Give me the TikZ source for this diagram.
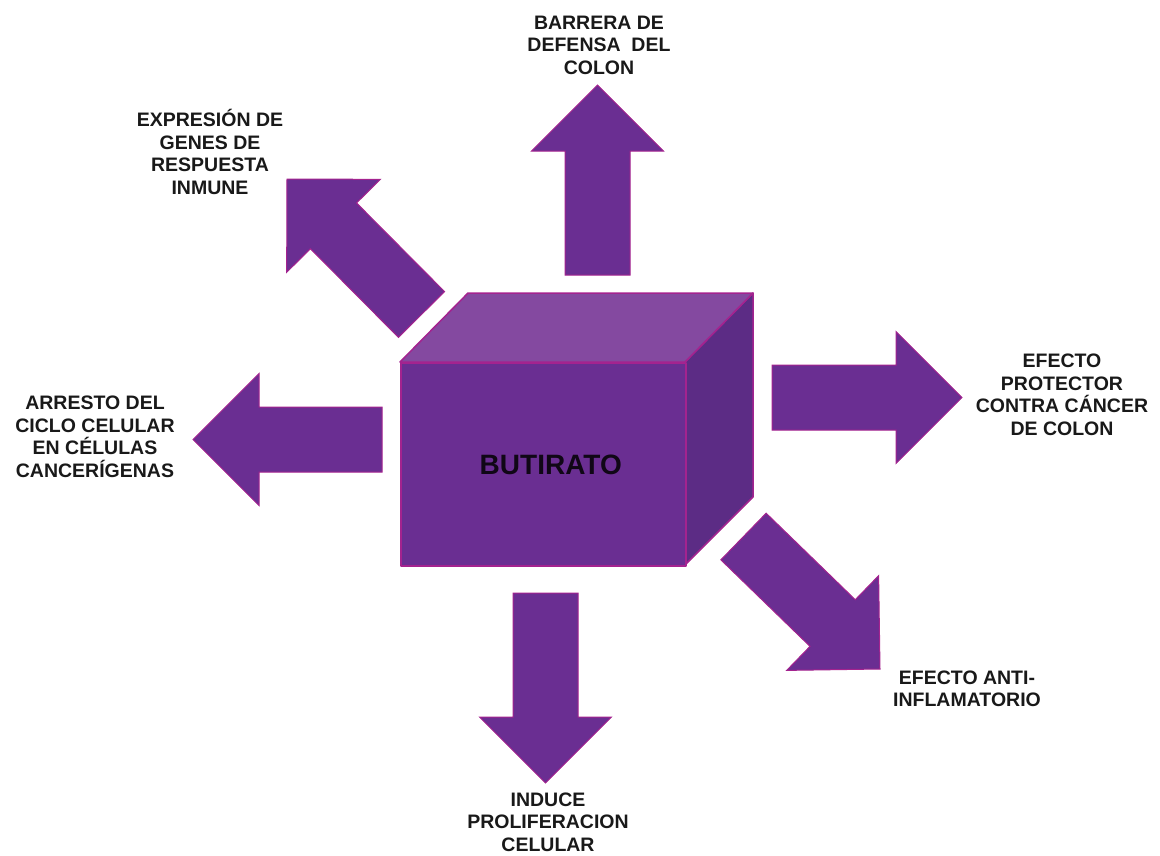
\documentclass[tikz,border=0pt]{standalone}
\usepackage{fontspec}
\setmainfont{Liberation Sans}
\usetikzlibrary{calc}

\definecolor{boxfront}{HTML}{6A2E92}
\definecolor{boxtop}{HTML}{8449A0}
\definecolor{boxside}{HTML}{5C2C85}
\definecolor{rim}{HTML}{A4238F}

\tikzset{
  effect/.style={font=\bfseries\fontsize{19.5}{22.5}\selectfont, align=center, text=black!90, inner sep=0pt},
  arrowbody/.style={fill=boxfront, draw=rim, line width=1pt, line join=miter},
  face/.style={draw=rim, line width=1.5pt, line join=round},
}

% block arrow from #1 to #2
\newcommand{\fatarrow}[2]{%
  \coordinate (hb) at ($(#2)!66pt!(#1)$);
  \filldraw[arrowbody] ($(#1)!32.5pt!90:(#2)$) -- ($(hb)!32.5pt!90:(#2)$)
    -- ($(hb)!66pt!90:(#2)$) -- (#2) -- ($(hb)!66pt!-90:(#2)$)
    -- ($(hb)!32.5pt!-90:(#2)$) -- ($(#1)!32.5pt!-90:(#2)$) -- cycle;
}

\begin{document}
\begin{tikzpicture}[x=1pt, y=-1pt]
  \useasboundingbox (0,0) rectangle (1160,855);

  % the box
  \filldraw[face, fill=boxside] (685,362) -- (753,293) -- (753,497) -- (685,565) -- cycle;
  \filldraw[face, fill=boxtop] (400,362) -- (468,293) -- (753,293) -- (685,362) -- cycle;
  \node[face, fill=boxfront, minimum width=285pt, minimum height=203pt, anchor=north west,
        font=\bfseries\fontsize{28}{30}\selectfont, text=black!85!boxfront,
        text depth=0pt] (butirato) at (400,362) {\hspace{15pt}BUTIRATO};

  % arrows
  \coordinate (up-from) at (597.5,275);    \coordinate (up-to) at (597.5,85);
  \coordinate (ul-from) at (421.5,314.5);  \coordinate (ul-to) at (287,179);
  \coordinate (left-from) at (382,439.5);  \coordinate (left-to) at (193,439.5);
  \coordinate (right-from) at (772,397.5); \coordinate (right-to) at (962,397.5);
  \coordinate (dr-from) at (743.5,536.5);  \coordinate (dr-to) at (880,669);
  \coordinate (down-from) at (545.5,593);  \coordinate (down-to) at (545.5,783);
  \fatarrow{up-from}{up-to}
  \fatarrow{ul-from}{ul-to}
  \fatarrow{left-from}{left-to}
  \fatarrow{right-from}{right-to}
  \fatarrow{dr-from}{dr-to}
  \fatarrow{down-from}{down-to}

  % effects
  \node[effect] (barrera) at (599,45) {BARRERA DE\\DEFENSA\ \ DEL\\COLON};
  \node[effect] (inmune) at (210,152) {EXPRESIÓN DE\\GENES DE\\RESPUESTA\\INMUNE};
  \node[effect] (arresto) at (95,437) {ARRESTO DEL\\CICLO CELULAR\\EN CÉLULAS\\CANCERÍGENAS};
  \node[effect] (protector) at (1062,395) {EFECTO\\PROTECTOR\\CONTRA CÁNCER\\DE COLON};
  \node[effect] (antiinf) at (967,689) {EFECTO ANTI-\\INFLAMATORIO};
  \node[effect] (induce) at (548,822) {INDUCE\\PROLIFERACION\\CELULAR};
\end{tikzpicture}
\end{document}
